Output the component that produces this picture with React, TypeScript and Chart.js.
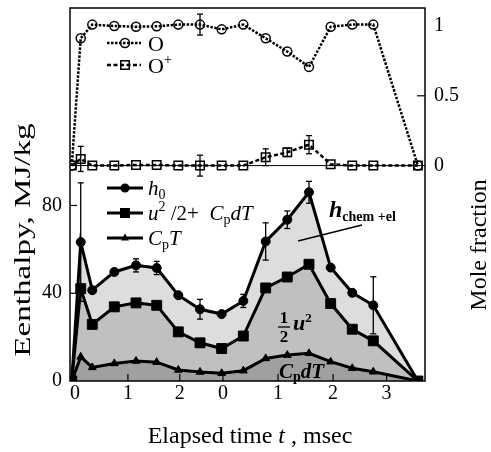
import React, { useEffect, useRef } from 'react';
import { Chart, registerables } from 'chart.js';
Chart.register(...registerables);

// x positions of the measurement points (continuous axis position; two time segments)
const timePos = [-0.06, 0.106, 0.32, 0.728, 1.13, 1.513, 1.913, 2.315, 2.716, 3.117, 3.531, 3.931, 4.333, 4.735, 5.135, 5.524, 6.35];
// x tick positions and their labels (two segments: 0..2 then 0..3 msec)
const xTickPos = [0, 0.98, 1.94, 2.74, 3.76, 4.78, 5.77];
const xTickLabels = ['0', '1', '2', '0', '1', '2', '3'];

// Enthalpy, MJ/kg
const h0 = [0, 63.3, 41.4, 49.7, 52.7, 51.5, 39.1, 32.7, 30.5, 36.5, 63.6, 73.5, 86, 51.7, 40.2, 34.5, 0];
const kinetic = [0, 42.1, 25.8, 33.8, 35.6, 34.5, 22.4, 17.4, 14.8, 20.5, 42.4, 47.4, 53.2, 35.3, 23.6, 18.3, 0];
const cpT = [0, 11, 6.2, 8, 9.1, 8.6, 5, 4.1, 3.5, 4.7, 10.3, 11.8, 12.6, 8.8, 5.8, 4.2, 0];
const h0Err = [null, 27, null, null, 3, 3, null, 4.5, null, 3, 8.5, 4, 5, null, null, 13, null];

// Mole fraction
const fracO = [0, 0.912, 1.01, 1.0, 0.995, 0.998, 1.01, 1.01, 0.976, 1.01, 0.912, 0.817, 0.707, 0.995, 1.01, 1.01, 0];
const fracOplus = [0, 0.048, 0, 0, 0.005, 0.005, 0, 0, 0, 0, 0.06, 0.095, 0.15, 0.01, 0, 0, 0];
const fracOErr = [null, null, null, null, null, null, null, 0.075, null, null, null, null, null, null, null, null, null];
const fracOplusErr = [null, 0.09, null, null, null, null, null, 0.075, null, null, 0.06, 0.03, 0.065, null, null, null, null];

const leftTicks = [0, 40, 80];
const leftTickLabels = ['0', '40', '80'];
const rightTicks = [0, 0.5, 1];
const rightTickLabels = ['0', '0.5', '1'];

const SERIF = "'Liberation Serif', 'DejaVu Serif', serif";

type Part = [string, string, number];
function drawRuns(ctx: CanvasRenderingContext2D, x: number, y: number, parts: Part[]) {
  ctx.textBaseline = 'alphabetic';
  ctx.textAlign = 'left';
  let cx = x;
  for (const [t, f, dy] of parts) {
    ctx.font = f;
    ctx.fillText(t, cx, y + dy);
    cx += ctx.measureText(t).width;
  }
  return cx - x;
}
function measureRuns(ctx: CanvasRenderingContext2D, parts: Part[]) {
  let w = 0;
  for (const [t, f] of parts) {
    ctx.font = f;
    w += ctx.measureText(t).width;
  }
  return w;
}
function seg(ctx: CanvasRenderingContext2D, x1: number, y1: number, x2: number, y2: number) {
  ctx.beginPath();
  ctx.moveTo(x1, y1);
  ctx.lineTo(x2, y2);
  ctx.stroke();
}

const decor = {
  id: 'decor',
  beforeDatasetsDraw(chart: any) {
    const { ctx, chartArea: a, scales } = chart;
    const y0 = scales.yR.getPixelForValue(0);
    ctx.save();
    ctx.strokeStyle = '#000';
    ctx.lineWidth = 1;
    seg(ctx, a.left, y0, a.right, y0);
    ctx.restore();
  },
  afterDatasetsDraw(chart: any) {
    const { ctx, chartArea: a, scales } = chart;
    ctx.save();
    ctx.strokeStyle = '#000';
    ctx.fillStyle = '#000';
    // frame
    ctx.lineWidth = 1.5;
    ctx.strokeRect(a.left, a.top, a.right - a.left, a.bottom - a.top);
    // inward ticks
    ctx.lineWidth = 1.2;
    xTickPos.forEach((v) => {
      const px = scales.x.getPixelForValue(v);
      seg(ctx, px, a.bottom, px, a.bottom - 7);
    });
    leftTicks.slice(1).forEach((v) => {
      const py = scales.yL.getPixelForValue(v);
      seg(ctx, a.left, py, a.left + 7, py);
    });
    [0.5].forEach((v) => {
      const py = scales.yR.getPixelForValue(v);
      seg(ctx, a.right, py, a.right - 8, py);
    });
    // error bars
    const errSets: [number, (number | null)[], number[], string][] = [
      [0, fracOErr, fracO, 'yR'],
      [1, fracOplusErr, fracOplus, 'yR'],
      [2, h0Err, h0, 'yL'],
    ];
    ctx.lineWidth = 1.3;
    errSets.forEach(([di, errs, vals, ax]) => {
      const meta = chart.getDatasetMeta(di);
      errs.forEach((e, j) => {
        if (e == null) return;
        const px = meta.data[j].x;
        const yt = scales[ax].getPixelForValue(vals[j] + e);
        const yb = scales[ax].getPixelForValue(vals[j] - e);
        seg(ctx, px, yt, px, yb);
        seg(ctx, px - 3, yt, px + 3, yt);
        seg(ctx, px - 3, yb, px + 3, yb);
      });
    });
    ctx.restore();
  },
  afterDraw(chart: any) {
    const { ctx } = chart;
    ctx.save();
    ctx.fillStyle = '#000';
    ctx.strokeStyle = '#000';

    // ---- top legend ----
    const lx1 = 107, lx2 = 141, mx = 125;
    // O
    ctx.lineWidth = 2.5;
    ctx.setLineDash([2.5, 1.5]);
    seg(ctx, lx1, 43, lx2, 43);
    ctx.setLineDash([]);
    ctx.lineWidth = 1.5;
    ctx.beginPath();
    ctx.arc(mx, 43, 4.5, 0, Math.PI * 2);
    ctx.stroke();
    drawRuns(ctx, 148, 51, [['O', `22px ${SERIF}`, 0]]);
    // O+
    ctx.lineWidth = 2.5;
    ctx.setLineDash([4, 2.5]);
    seg(ctx, lx1, 65, lx2, 65);
    ctx.setLineDash([]);
    ctx.lineWidth = 1.5;
    ctx.strokeRect(mx - 4.2, 65 - 4.2, 8.4, 8.4);
    drawRuns(ctx, 148, 73, [['O', `22px ${SERIF}`, 0], ['+', `14px ${SERIF}`, -9]]);

    // ---- bottom legend ----
    ctx.lineWidth = 3;
    const rows = [188, 213, 238];
    rows.forEach((ry) => seg(ctx, lx1, ry, 143, ry));
    ctx.beginPath();
    ctx.arc(mx, rows[0], 4.5, 0, Math.PI * 2);
    ctx.fill();
    ctx.fillRect(mx - 5, rows[1] - 5, 10, 10);
    ctx.beginPath();
    ctx.moveTo(mx, rows[2] - 4.5);
    ctx.lineTo(mx + 4, rows[2] + 2.5);
    ctx.lineTo(mx - 4, rows[2] + 2.5);
    ctx.closePath();
    ctx.fill();
    drawRuns(ctx, 148, rows[0] + 7, [['h', `italic 21px ${SERIF}`, 0], ['0', `14px ${SERIF}`, 4]]);
    drawRuns(ctx, 148, rows[1] + 7, [
      ['u', `italic 21px ${SERIF}`, 0],
      ['2', `14px ${SERIF}`, -9],
      [' /2+  ', `21px ${SERIF}`, 0],
      ['C', `italic 21px ${SERIF}`, 0],
      ['p', `14px ${SERIF}`, 4],
      ['dT', `italic 21px ${SERIF}`, 0],
    ]);
    drawRuns(ctx, 148, rows[2] + 7, [
      ['C', `italic 21px ${SERIF}`, 0],
      ['p', `14px ${SERIF}`, 4],
      ['T', `italic 21px ${SERIF}`, 0],
    ]);

    // ---- annotations ----
    drawRuns(ctx, 329, 217, [['h', `bold italic 24px ${SERIF}`, 0], ['chem +el', `bold 14px ${SERIF}`, 4]]);
    ctx.lineWidth = 1.3;
    seg(ctx, 298, 241, 362, 225);
    // 1/2 u^2
    ctx.textAlign = 'center';
    ctx.font = `bold 17px ${SERIF}`;
    ctx.fillText('1', 284, 323);
    ctx.fillText('2', 284, 342);
    ctx.lineWidth = 1.3;
    seg(ctx, 278, 327, 290, 327);
    drawRuns(ctx, 293, 330, [['u', `bold italic 22px ${SERIF}`, 0], ['2', `bold 13px ${SERIF}`, -8]]);
    // CpdT
    drawRuns(ctx, 279, 378, [
      ['C', `bold italic 21px ${SERIF}`, 0],
      ['p', `bold 14px ${SERIF}`, 3],
      ['dT', `bold italic 21px ${SERIF}`, 0],
    ]);

    // ---- axis titles ----
    const xt: Part[] = [
      ['Elapsed time ', `24px ${SERIF}`, 0],
      ['t', `italic 24px ${SERIF}`, 0],
      [' , msec', `24px ${SERIF}`, 0],
    ];
    const xw = measureRuns(ctx, xt);
    drawRuns(ctx, 250 - xw / 2, 443, xt);

    ctx.save();
    ctx.translate(24, 240);
    ctx.rotate(-Math.PI / 2);
    ctx.scale(1.38, 1);
    ctx.font = `24px ${SERIF}`;
    ctx.textAlign = 'center';
    ctx.textBaseline = 'middle';
    ctx.fillText('Eenthalpy, MJ/kg', 0, 0);
    ctx.restore();

    ctx.save();
    ctx.translate(480, 245);
    ctx.rotate(-Math.PI / 2);
    ctx.font = `24px ${SERIF}`;
    ctx.textAlign = 'center';
    ctx.textBaseline = 'middle';
    ctx.fillText('Mole fraction', 0, 0);
    ctx.restore();

    ctx.restore();
  },
};

const pts = (ys: number[]) => timePos.map((x, i) => ({ x, y: ys[i] }));

function fixV(w: number) {
  return (s: any) => {
    s.width = w;
    s.paddingTop = 0;
    s.paddingBottom = 0;
  };
}

export default function App() {
  const ref = useRef<HTMLCanvasElement>(null);
  useEffect(() => {
    if (!ref.current) return;
    const tickFont = { family: SERIF, size: 20 };
    const chart = new Chart(ref.current, {
      type: 'line',
      data: {
        datasets: [
          {
            label: 'O',
            data: pts(fracO),
            yAxisID: 'yR',
            borderColor: '#000',
            borderWidth: 2.5,
            borderDash: [2.5, 1.5],
            pointStyle: 'circle',
            pointRadius: 4.5,
            pointBorderWidth: 1.5,
            pointBorderColor: '#000',
            pointBackgroundColor: 'rgba(0,0,0,0)',
            fill: false,
            tension: 0,
          },
          {
            label: 'O+',
            data: pts(fracOplus),
            yAxisID: 'yR',
            borderColor: '#000',
            borderWidth: 2.5,
            borderDash: [4, 2.5],
            pointStyle: 'rect',
            pointRadius: 6,
            pointBorderWidth: 1.5,
            pointBorderColor: '#000',
            pointBackgroundColor: 'rgba(0,0,0,0)',
            fill: false,
            tension: 0,
          },
          {
            label: 'h0',
            data: pts(h0),
            yAxisID: 'yL',
            borderColor: '#000',
            borderWidth: 3,
            backgroundColor: 'rgb(221,221,221)',
            pointStyle: 'circle',
            pointRadius: 4.5,
            pointBorderWidth: 1,
            pointBorderColor: '#000',
            pointBackgroundColor: '#000',
            fill: '+1',
            tension: 0,
          },
          {
            label: 'u2/2 + CpdT',
            data: pts(kinetic),
            yAxisID: 'yL',
            borderColor: '#000',
            borderWidth: 3,
            backgroundColor: 'rgb(192,192,192)',
            pointStyle: 'rect',
            pointRadius: 7,
            pointBorderWidth: 1,
            pointBorderColor: '#000',
            pointBackgroundColor: '#000',
            fill: '+1',
            tension: 0,
          },
          {
            label: 'CpT',
            data: pts(cpT),
            yAxisID: 'yL',
            borderColor: '#000',
            borderWidth: 3,
            backgroundColor: 'rgb(160,160,160)',
            pointStyle: 'triangle',
            pointRadius: 4.5,
            pointBorderWidth: 1,
            pointBorderColor: '#000',
            pointBackgroundColor: '#000',
            fill: 'origin',
            tension: 0,
          },
        ],
      },
      options: {
        responsive: false,
        animation: false,
        devicePixelRatio: 1,
        layout: { padding: { top: 7, left: 0, right: 0, bottom: 0 } },
        plugins: {
          legend: { display: false },
          tooltip: { enabled: false },
          filler: { drawTime: 'beforeDatasetsDraw' },
        },
        scales: {
          x: {
            type: 'linear',
            min: -0.0926,
            max: 6.4815,
            grid: { display: false, drawTicks: false },
            border: { display: false },
            afterBuildTicks: (s: any) => {
              s.ticks = xTickPos.map((v) => ({ value: v }));
            },
            ticks: {
              autoSkip: false,
              maxRotation: 0,
              padding: 1,
              color: '#000',
              font: tickFont,
              callback: (_v: any, i: number) => xTickLabels[i],
            },
            afterFit: (s: any) => {
              s.height = 71;
              s.paddingLeft = 0;
              s.paddingRight = 0;
            },
          },
          yL: {
            type: 'linear',
            position: 'left',
            min: 0,
            max: 170,
            grid: { display: false, drawTicks: false },
            border: { display: false },
            afterBuildTicks: (s: any) => {
              s.ticks = leftTicks.map((v) => ({ value: v }));
            },
            ticks: {
              padding: 8,
              color: '#000',
              font: tickFont,
              callback: (_v: any, i: number) => leftTickLabels[i],
            },
            afterFit: fixV(70),
          },
          yR: {
            type: 'linear',
            position: 'right',
            min: -1.543,
            max: 1.129,
            grid: { display: false, drawTicks: false },
            border: { display: false },
            afterBuildTicks: (s: any) => {
              s.ticks = rightTicks.map((v) => ({ value: v }));
            },
            ticks: {
              padding: 9,
              color: '#000',
              font: tickFont,
              callback: (_v: any, i: number) => rightTickLabels[i],
            },
            afterFit: fixV(66),
          },
        },
      },
      plugins: [decor],
    } as any);
    return () => chart.destroy();
  }, []);
  return (
    <div style={{ position: 'fixed', left: 0, top: 0, width: 491, height: 452, background: '#fff' }}>
      <canvas ref={ref} width={491} height={452} style={{ display: 'block' }} />
    </div>
  );
}
